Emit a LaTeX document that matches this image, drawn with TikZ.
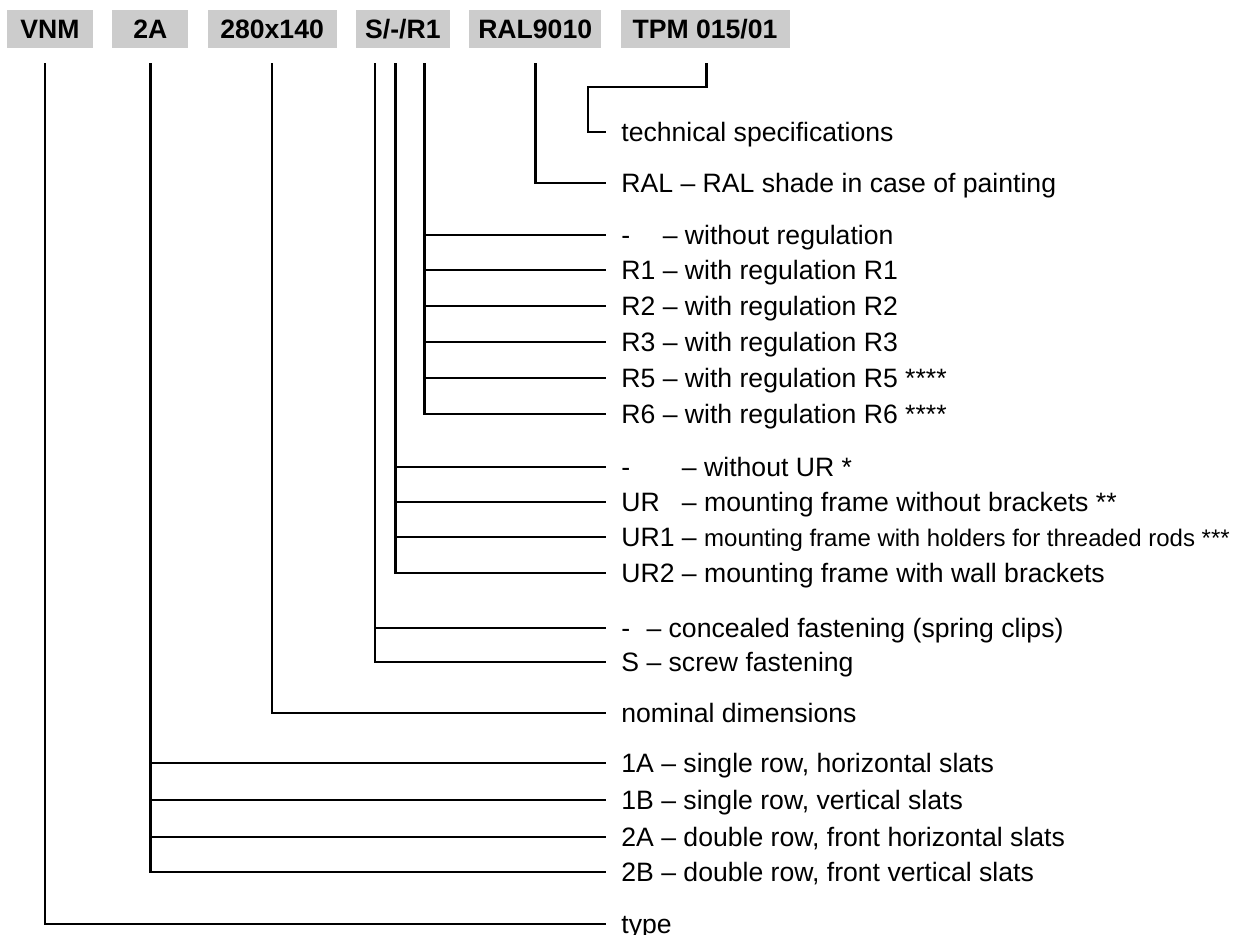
\documentclass[tikz,border=0pt]{standalone}
\usepackage{fontspec}
\setmainfont{Liberation Sans}
\usetikzlibrary{positioning,calc}
\definecolor{boxgray}{RGB}{204,204,204}

\begin{document}
\begin{tikzpicture}[
    x=0.5pt,y=-0.5pt,
    every node/.style={font=\fontsize{13.3}{16}\selectfont},
    code/.style={fill=boxgray,font=\fontsize{13.3}{16}\selectfont\bfseries,minimum height=19pt,inner xsep=0pt,text height=9.5pt,text depth=0pt},
    lbl/.style={anchor=west,inner xsep=7.5pt,inner ysep=0pt,text height=9.5pt,text depth=0pt},
    lead/.style={line width=1.35pt},
    node distance=9.25pt
]
\useasboundingbox (0,0) rectangle (1233,934);

% Top row: the order code
\node[code,minimum width=43pt] (vnm) at (50,29) {VNM};
\node[code,minimum width=38pt,right=of vnm] (row) {2A};
\node[code,minimum width=64.5pt,right=of row] (dim) {280x140};
\node[code,minimum width=47pt,right=of dim] (fix) {S/-/R1};
\node[code,minimum width=66pt,right=of fix] (ral) {RAL9010};
\node[code,minimum width=84.5pt,right=of ral] (tpm) {TPM 015/01};

% where the leads leave the boxes
\coordinate (vnmT) at ([xshift=-2.5pt,yshift=-7.5pt]vnm.south);
\coordinate (rowT) at ([yshift=-7.5pt]row.south);
\coordinate (dimT) at ([yshift=-7.5pt]dim.south);
\coordinate (fixS) at ([xshift=-14pt,yshift=-7.5pt]fix.south);
\coordinate (fixU) at ([xshift=-3.75pt,yshift=-7.5pt]fix.south);
\coordinate (fixR) at ([xshift=10.75pt,yshift=-7.5pt]fix.south);
\coordinate (ralT) at ([yshift=-7.5pt]ral.south);
\coordinate (tpmT) at ([xshift=0.75pt,yshift=-7.5pt]tpm.south);
\coordinate (tpmK) at (588,87);

% Legend column
\node[lbl] (lTech) at (606,132) {technical specifications};
\node[lbl] (lRal)  at (606,183) {RAL – RAL shade in case of painting};
\node[lbl] (lR0) at (606,235) {\rlap{-}\phantom{R1} – without regulation};
\node[lbl] (lR1) at (606,270) {R1 – with regulation R1};
\node[lbl] (lR2) at (606,306) {R2 – with regulation R2};
\node[lbl] (lR3) at (606,342) {R3 – with regulation R3};
\node[lbl] (lR5) at (606,378) {R5 – with regulation R5 ****};
\node[lbl] (lR6) at (606,414) {R6 – with regulation R6 ****};
\node[lbl] (lU0) at (606,467) {\rlap{-}\phantom{UR1} – without UR *};
\node[lbl] (lU)  at (606,502) {\rlap{UR}\phantom{UR1} – mounting frame without brackets **};
\node[lbl] (lU1) at (606,537) {UR1 – {\fontsize{12}{14}\selectfont mounting frame with holders for threaded rods ***}};
\node[lbl] (lU2) at (606,573) {UR2 – mounting frame with wall brackets};
\node[lbl] (lF0) at (606,628) {\rlap{-}\phantom{S} – concealed fastening (spring clips)};
\node[lbl] (lFS) at (606,662) {S – screw fastening};
\node[lbl] (lDim) at (606,713) {nominal dimensions};
\node[lbl] (l1A) at (606,763) {1A – single row, horizontal slats};
\node[lbl] (l1B) at (606,800) {1B – single row, vertical slats};
\node[lbl] (l2A) at (606,837) {2A – double row, front horizontal slats};
\node[lbl] (l2B) at (606,872) {2B – double row, front vertical slats};
\node[lbl] (lType) at (606,924) {type};

% Leads
\draw[lead] (tpmT) |- (tpmK) |- (lTech.west);
\draw[lead] (ralT) |- (lRal.west);
\draw[lead] (fixR) |- (lR6.west);
\foreach \n in {lR0,lR1,lR2,lR3,lR5}
    \draw[lead] (fixR |- \n.west) -- (\n.west);
\draw[lead] (fixU) |- (lU2.west);
\foreach \n in {lU0,lU,lU1}
    \draw[lead] (fixU |- \n.west) -- (\n.west);
\draw[lead] (fixS) |- (lFS.west);
\draw[lead] (fixS |- lF0.west) -- (lF0.west);
\draw[lead] (dimT) |- (lDim.west);
\draw[lead] (rowT) |- (l2B.west);
\foreach \n in {l1A,l1B,l2A}
    \draw[lead] (rowT |- \n.west) -- (\n.west);
\draw[lead] (vnmT) |- (lType.west);
\end{tikzpicture}
\end{document}
